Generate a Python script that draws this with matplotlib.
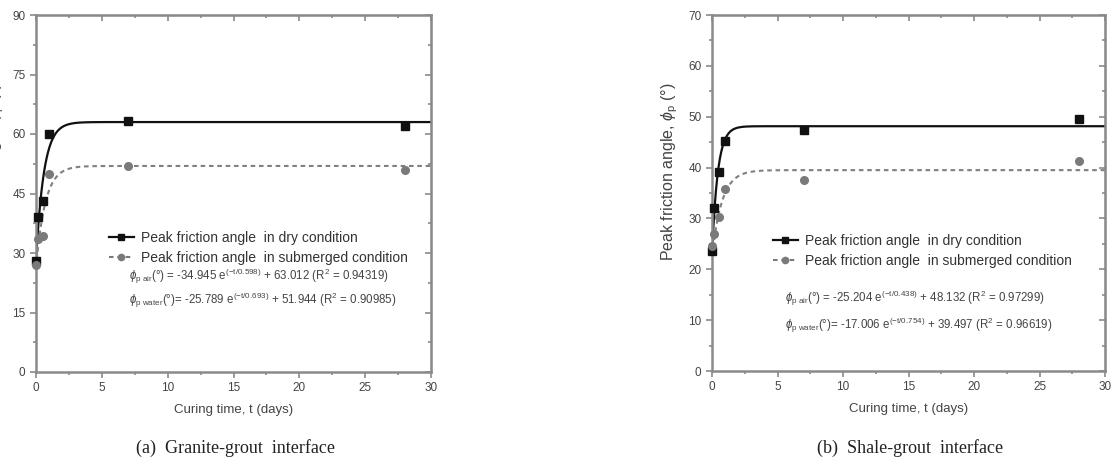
import numpy as np
import matplotlib
matplotlib.use("Agg")
import matplotlib.pyplot as plt

plt.rcParams['font.family'] = ['Liberation Sans Narrow', 'Liberation Sans', 'DejaVu Sans']
plt.rcParams['mathtext.fontset'] = 'custom'
plt.rcParams['mathtext.rm'] = 'Liberation Sans'
plt.rcParams['mathtext.it'] = 'Liberation Sans:italic'

# curing times (days)
t_days = [0, 0.125, 0.5, 1, 7, 28]

# granite-grout interface
granite_dry = [28.0, 39.0, 43.0, 60.0, 63.3, 62.0]
granite_wet = [27.0, 33.5, 34.3, 50.0, 52.0, 51.0]
granite_fit_dry = (-34.945, 0.598, 63.012)
granite_fit_wet = (-25.789, 0.693, 51.944)
granite_eqs = [r'$\phi_{\mathrm{p\ air}}$(°) = -34.945 e$^{(\mathrm{-t/0.598})}$ + 63.012 (R$^2$ = 0.94319)',
               r'$\phi_{\mathrm{p\ water}}$(°)= -25.789 e$^{(\mathrm{-t/0.693})}$ + 51.944 (R$^2$ = 0.90985)']

# shale-grout interface
shale_dry = [23.5, 32.0, 39.2, 45.2, 47.3, 49.6]
shale_wet = [24.5, 27.0, 30.2, 35.7, 37.6, 41.2]
shale_fit_dry = (-25.204, 0.438, 48.132)
shale_fit_wet = (-17.006, 0.754, 39.497)
shale_eqs = [r'$\phi_{\mathrm{p\ air}}$(°) = -25.204 e$^{(\mathrm{-t/0.438})}$ + 48.132 (R$^2$ = 0.97299)',
             r'$\phi_{\mathrm{p\ water}}$(°)= -17.006 e$^{(\mathrm{-t/0.754})}$ + 39.497 (R$^2$ = 0.96619)']

captions = ['(a)  Granite-grout  interface', '(b)  Shale-grout  interface']
ylabel = r'Peak friction angle, $\phi_{\mathrm{p}}$ (°)'

W, H = 1115, 476
fig = plt.figure(figsize=(W / 100, H / 100), dpi=100)

def px_axes(x0, x1, y0, y1):
    return fig.add_axes([x0 / W, 1 - y1 / H, (x1 - x0) / W, (y1 - y0) / H])

spine_c = '#8a8a8a'
text_c = '#444444'

def style(ax, ymax, ystep):
    ax.set_xlim(0, 30)
    ax.set_ylim(0, ymax)
    xt, xm = np.arange(0, 31, 5), np.arange(0, 31, 2.5)
    yt, ym = np.arange(0, ymax + 1, ystep), np.arange(0, ymax + 1, ystep / 2)
    ax.set_xticks(xt)
    ax.set_xticks(xm, minor=True)
    ax.set_yticks(yt)
    ax.set_yticks(ym, minor=True)
    for s in ax.spines.values():
        s.set_color(spine_c)
        s.set_linewidth(1.8)
    ax.tick_params(which='both', direction='out', color=spine_c, labelcolor=text_c,
                   labelsize=8.5, width=1.2)
    ax.tick_params(which='major', length=4)
    ax.tick_params(which='minor', length=2.5)
    # mirrored ticks pointing inward on top/right
    top = ax.secondary_xaxis('top')
    top.set_xticks(xt)
    top.set_xticks(xm, minor=True)
    right = ax.secondary_yaxis('right')
    right.set_yticks(yt)
    right.set_yticks(ym, minor=True)
    for sec in (top, right):
        sec.tick_params(which='both', direction='in', color=spine_c, width=1.2,
                        labelleft=False, labelright=False, labeltop=False, labelbottom=False)
        sec.tick_params(which='major', length=4)
        sec.tick_params(which='minor', length=2.5)
    ax.set_xlabel('Curing time, t (days)', fontsize=9.5, color=text_c, labelpad=7)

def panel(ax, dry, wet, fit_dry, fit_wet, eqs, leg_anchor, eq_x, eq_y):
    tt = np.linspace(0, 30, 600)
    a, tau, c = fit_dry
    ax.plot(tt, a * np.exp(-tt / tau) + c, color='#111111', lw=1.6)
    a, tau, c = fit_wet
    ax.plot(tt, a * np.exp(-tt / tau) + c, color='#808080', lw=1.5, linestyle=(0, (2.2, 1.8)))
    ax.plot(t_days, dry, 's', color='#111111', ms=5.5, clip_on=False, zorder=5)
    ax.plot(t_days, wet, 'o', color='#7a7a7a', ms=5.5, clip_on=False, zorder=5)
    h1, = ax.plot([], [], '-s', color='#111111', ms=4.5, lw=1.6)
    h2, = ax.plot([], [], linestyle=(0, (2.2, 1.8)), marker='o', color='#7a7a7a', ms=4.5, lw=1.5)
    ax.legend([h1, h2], ['Peak friction angle  in dry condition',
                         'Peak friction angle  in submerged condition'],
              loc='upper left', bbox_to_anchor=leg_anchor, frameon=False, fontsize=10,
              handlelength=1.8, handletextpad=0.5, labelspacing=0.4, borderaxespad=0,
              labelcolor='#333333')
    for eq, y in zip(eqs, eq_y):
        ax.text(eq_x, y, eq, transform=ax.transAxes, fontsize=8.3, color=text_c, va='center')

ax1 = px_axes(36, 431, 15, 372)
style(ax1, 90, 15)
panel(ax1, granite_dry, granite_wet, granite_fit_dry, granite_fit_wet, granite_eqs,
      (0.17, 0.41), 0.235, [0.268, 0.200])
# the left panel's axis title is cropped at the figure edge, as in the source image
ax1.set_ylabel(ylabel, fontsize=11.5, color=text_c)
ax1.yaxis.set_label_coords(-0.075, 0.56)

ax2 = px_axes(712, 1105, 15, 371)
style(ax2, 70, 10)
panel(ax2, shale_dry, shale_wet, shale_fit_dry, shale_fit_wet, shale_eqs,
      (0.14, 0.40), 0.185, [0.205, 0.128])
ax2.set_ylabel(ylabel, fontsize=11.5, color=text_c)
ax2.yaxis.set_label_coords(-0.082, 0.56)

fig.text(235 / W, 1 - 448 / H, captions[0], ha='center', va='center', fontsize=13,
         family=['Liberation Serif', 'DejaVu Serif'], color='#222222')
fig.text(910 / W, 1 - 448 / H, captions[1], ha='center', va='center', fontsize=13,
         family=['Liberation Serif', 'DejaVu Serif'], color='#222222')

fig.savefig('out.png', dpi=100)
